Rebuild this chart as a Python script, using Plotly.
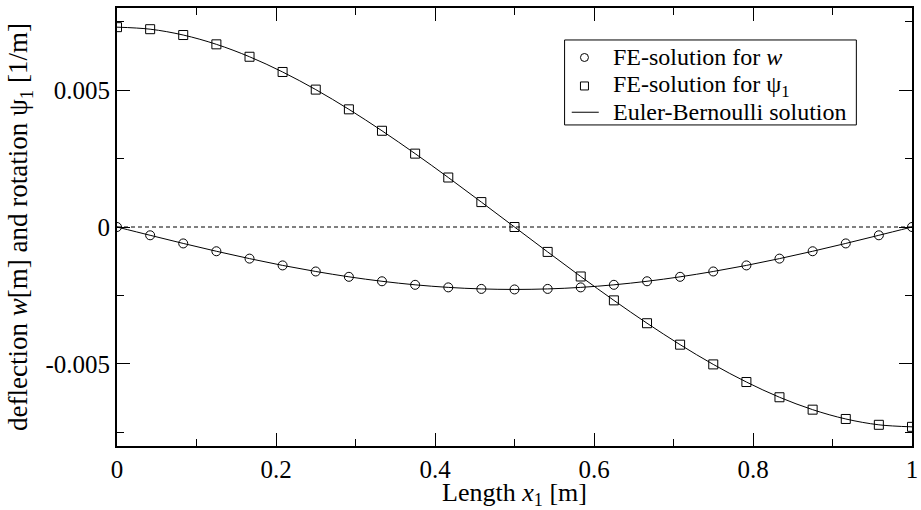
import plotly.graph_objects as go

# beam positions [m]
x_nodes = [0.0, 0.0417, 0.0833, 0.125, 0.1667, 0.2083, 0.25, 0.2917, 0.3333, 0.375, 0.4167, 0.4583,
           0.5, 0.5417, 0.5833, 0.625, 0.6667, 0.7083, 0.75, 0.7917, 0.8333, 0.875, 0.9167, 0.9583, 1.0]

# deflection w [m]
w_vals = [0.0, -0.000303, -0.000600, -0.000886, -0.001155, -0.001403, -0.001625, -0.001820, -0.001983,
          -0.002112, -0.002206, -0.002262, -0.002281, -0.002262, -0.002206, -0.002112, -0.001983,
          -0.001820, -0.001625, -0.001403, -0.001155, -0.000886, -0.000600, -0.000303, 0.0]

# rotation psi_1 [1/m]
psi_vals = [0.0073, 0.007226, 0.007013, 0.006673, 0.006219, 0.005663, 0.005019, 0.004298, 0.003515,
            0.002680, 0.001808, 0.000910, 0.0, -0.000910, -0.001808, -0.002680, -0.003515, -0.004298,
            -0.005019, -0.005663, -0.006219, -0.006673, -0.007013, -0.007226, -0.0073]

x_ticks = [0, 0.2, 0.4, 0.6, 0.8, 1]
x_ticklabels = ["0", "0.2", "0.4", "0.6", "0.8", "1"]
y_ticks = [-0.005, 0, 0.005]
y_ticklabels = ["-0.005", "0", "0.005"]

legend_labels = ["FE-solution for <i>w</i>", "FE-solution for ψ<sub>1</sub>", "Euler-Bernoulli solution"]

font = "Liberation Serif, Times New Roman, serif"

fig = go.Figure()

# dashed zero line
fig.add_trace(go.Scatter(x=[x_nodes[0], x_nodes[-1]], y=[0, 0], mode="lines",
                         line=dict(color="black", width=1, dash="4px,3px"),
                         showlegend=False, hoverinfo="skip"))

fig.add_trace(go.Scatter(x=x_nodes, y=w_vals, mode="markers", name=legend_labels[0],
                         marker=dict(symbol="circle-open", size=9, color="black", line=dict(width=1))))
fig.add_trace(go.Scatter(x=x_nodes, y=psi_vals, mode="markers", name=legend_labels[1],
                         marker=dict(symbol="square-open", size=9, color="black", line=dict(width=1))))
fig.add_trace(go.Scatter(x=x_nodes, y=w_vals, mode="lines", line_shape="spline",
                         line=dict(color="black", width=1), name=legend_labels[2]))
fig.add_trace(go.Scatter(x=x_nodes, y=psi_vals, mode="lines", line_shape="spline",
                         line=dict(color="black", width=1), name=legend_labels[2]))

# compact legend box, drawn by hand so the rows sit as tight as in the original
row_y = [0.887, 0.822, 0.762]
fig.add_shape(type="rect", xref="paper", yref="paper", x0=0.563, x1=0.930, y0=0.733, y1=0.927,
              line=dict(color="black", width=1), fillcolor="white", layer="above")
fig.add_shape(type="circle", xref="paper", yref="paper", xsizemode="pixel", ysizemode="pixel",
              xanchor=0.588, yanchor=row_y[0], x0=-4, x1=4, y0=-4, y1=4,
              line=dict(color="black", width=1), layer="above")
fig.add_shape(type="rect", xref="paper", yref="paper", xsizemode="pixel", ysizemode="pixel",
              xanchor=0.588, yanchor=row_y[1], x0=-4, x1=4, y0=-4, y1=4,
              line=dict(color="black", width=1), layer="above")
fig.add_shape(type="line", xref="paper", yref="paper", x0=0.572, x1=0.606, y0=row_y[2], y1=row_y[2],
              line=dict(color="black", width=1), layer="above")
for lab, yy in zip(legend_labels, row_y):
    fig.add_annotation(text=lab, xref="paper", yref="paper", x=0.621, y=yy, xanchor="left",
                       yanchor="middle", showarrow=False,
                       font=dict(family=font, size=24, color="black"))

axis_common = dict(showgrid=False, zeroline=False, showline=True, linecolor="black", linewidth=2,
                   mirror="allticks", ticks="inside", ticklen=13, tickwidth=1, tickcolor="black",
                   ticklabeloverflow="allow",
                   tickfont=dict(family=font, size=25, color="black"))

fig.update_xaxes(range=[0, 1], tickvals=x_ticks, ticktext=x_ticklabels,
                 minor=dict(dtick=0.1, ticks="inside", ticklen=7, tickcolor="black", tickwidth=1),
                 title=dict(text="Length <i>x</i><sub>1</sub> [m]",
                            font=dict(family=font, size=26, color="black"), standoff=0),
                 **axis_common)
fig.update_yaxes(range=[-0.008, 0.008], tickvals=y_ticks, ticktext=y_ticklabels,
                 minor=dict(dtick=0.0025, tick0=0, ticks="inside", ticklen=7, tickcolor="black", tickwidth=1),
                 title=dict(text="deflection <i>w</i>[m] and rotation ψ<sub>1</sub> [1/m]",
                            font=dict(family=font, size=27, color="black"), standoff=10),
                 **axis_common)

fig.update_layout(
    width=921, height=510,
    margin=dict(l=117, r=3, t=8, b=64),
    plot_bgcolor="white", paper_bgcolor="white",
    font=dict(family=font, color="black"),
    showlegend=False,
)

fig.write_html("out.html", config={"displayModeBar": False},
               post_script="document.body.style.margin='0';")
